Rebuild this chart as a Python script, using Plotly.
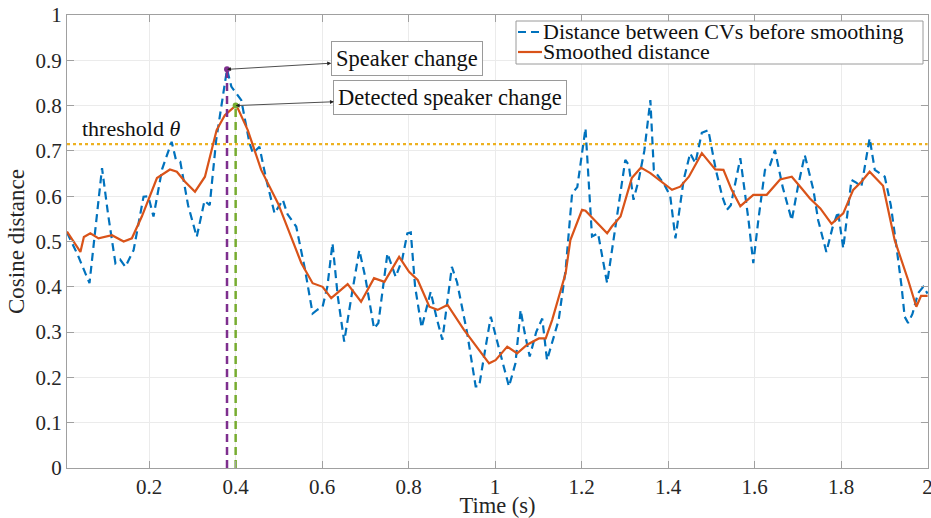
import plotly.graph_objects as go

# ---------------- data ----------------
raw_t = [0.01, 0.035, 0.062, 0.075, 0.091, 0.105, 0.122, 0.133, 0.145, 0.164, 0.187, 0.198,
         0.21, 0.23, 0.252, 0.262, 0.272, 0.29, 0.31, 0.328, 0.34, 0.355, 0.38, 0.39, 0.413,
         0.432, 0.44, 0.455, 0.47, 0.49, 0.509, 0.52, 0.54, 0.56, 0.578, 0.59, 0.601, 0.612,
         0.624, 0.636, 0.651, 0.668, 0.686, 0.70, 0.72, 0.73, 0.751, 0.77, 0.785, 0.797, 0.805,
         0.815, 0.83, 0.851, 0.865, 0.878, 0.90, 0.912, 0.935, 0.955, 0.963, 0.975, 0.99, 1.01,
         1.032, 1.047, 1.059, 1.068, 1.08, 1.095, 1.109, 1.12, 1.147, 1.163, 1.178, 1.19, 1.209,
         1.224, 1.238, 1.259, 1.278, 1.301, 1.309, 1.32, 1.332, 1.345, 1.359, 1.367, 1.39, 1.405,
         1.417, 1.436, 1.451, 1.463, 1.478, 1.493, 1.51, 1.525, 1.536, 1.545, 1.567, 1.586, 1.597,
         1.609, 1.624, 1.636, 1.647, 1.665, 1.686, 1.70, 1.716, 1.736, 1.747, 1.766, 1.78, 1.793,
         1.805, 1.824, 1.835, 1.847, 1.866, 1.878, 1.901, 1.915, 1.928, 1.94, 1.947, 1.955, 1.965,
         1.978, 1.99, 2.0]
raw_v = [0.52, 0.47, 0.408, 0.52, 0.662, 0.56, 0.452, 0.46, 0.444, 0.481, 0.599, 0.60,
         0.555, 0.66, 0.72, 0.68, 0.676, 0.58, 0.51, 0.59, 0.58, 0.724, 0.88, 0.842, 0.812,
         0.717, 0.695, 0.709, 0.64, 0.562, 0.592, 0.56, 0.533, 0.44, 0.341, 0.35, 0.356, 0.40,
         0.496, 0.38, 0.279, 0.38, 0.481, 0.42, 0.308, 0.32, 0.474, 0.422, 0.46, 0.518, 0.52,
         0.40, 0.31, 0.389, 0.33, 0.283, 0.444, 0.41, 0.30, 0.18, 0.18, 0.25, 0.334, 0.26,
         0.18, 0.231, 0.349, 0.30, 0.246, 0.30, 0.33, 0.238, 0.327, 0.437, 0.606, 0.62, 0.75,
         0.511, 0.518, 0.408, 0.533, 0.68, 0.669, 0.592, 0.636, 0.70, 0.812, 0.658, 0.628, 0.60,
         0.507, 0.636, 0.695, 0.673, 0.74, 0.746, 0.66, 0.60, 0.57, 0.58, 0.684, 0.547, 0.452,
         0.55, 0.658, 0.669, 0.702, 0.62, 0.547, 0.62, 0.691, 0.614, 0.547, 0.477, 0.53, 0.566,
         0.485, 0.636, 0.63, 0.621, 0.728, 0.658, 0.643, 0.58, 0.489, 0.40, 0.334, 0.32, 0.34,
         0.386, 0.40, 0.385]

smooth_t = [0.01, 0.041, 0.049, 0.064, 0.083, 0.114, 0.141, 0.16, 0.183, 0.218, 0.248, 0.264,
            0.283, 0.306, 0.329, 0.356, 0.375, 0.40, 0.405, 0.428, 0.459, 0.498, 0.552, 0.578,
            0.601, 0.621, 0.659, 0.69, 0.72, 0.744, 0.778, 0.801, 0.821, 0.848, 0.867, 0.89,
            0.928, 0.986, 1.001, 1.028, 1.051, 1.074, 1.101, 1.117, 1.132, 1.163, 1.174, 1.201,
            1.209, 1.236, 1.259, 1.27, 1.29, 1.316, 1.337, 1.359, 1.39, 1.409, 1.428, 1.448,
            1.478, 1.509, 1.528, 1.547, 1.567, 1.597, 1.618, 1.628, 1.659, 1.686, 1.709, 1.728,
            1.752, 1.778, 1.805, 1.828, 1.847, 1.866, 1.897, 1.924, 1.955, 1.974, 1.985, 2.0]
smooth_v = [0.522, 0.477, 0.51, 0.518, 0.507, 0.514, 0.50, 0.507, 0.555, 0.64, 0.659, 0.654,
            0.632, 0.61, 0.643, 0.746, 0.779, 0.80, 0.794, 0.746, 0.658, 0.584, 0.452, 0.408,
            0.40, 0.375, 0.406, 0.367, 0.419, 0.411, 0.466, 0.433, 0.415, 0.356, 0.349, 0.36,
            0.305, 0.231, 0.238, 0.268, 0.253, 0.272, 0.286, 0.286, 0.327, 0.43, 0.503, 0.57,
            0.568, 0.54, 0.518, 0.533, 0.555, 0.64, 0.663, 0.651, 0.628, 0.614, 0.621, 0.643,
            0.695, 0.659, 0.658, 0.614, 0.578, 0.603, 0.603, 0.603, 0.637, 0.643, 0.617, 0.595,
            0.573, 0.539, 0.562, 0.614, 0.632, 0.654, 0.623, 0.503, 0.415, 0.356, 0.38, 0.38]

threshold = 0.715
change_t, change_v = 0.38, 0.88
detect_t, detect_v = 0.40, 0.80

x_ticks = [0.2, 0.4, 0.6, 0.8, 1.0, 1.2, 1.4, 1.6, 1.8, 2.0]
x_tick_labels = ["0.2", "0.4", "0.6", "0.8", "1", "1.2", "1.4", "1.6", "1.8", "2"]
y_ticks = [0, 0.1, 0.2, 0.3, 0.4, 0.5, 0.6, 0.7, 0.8, 0.9, 1.0]
y_tick_labels = ["0", "0.1", "0.2", "0.3", "0.4", "0.5", "0.6", "0.7", "0.8", "0.9", "1"]

legend_labels = ["Distance between CVs before smoothing", "Smoothed distance"]

# ---------------- style ----------------
W, H = 931, 518
ML, MR, MT, MB = 67, 3, 15, 50
PW, PH = W - ML - MR, H - MT - MB
FONT = "Liberation Serif"
BLUE, ORANGE, YELLOW = "#0072BD", "#D95319", "#EDB120"
PURPLE, GREEN = "#7E2F8E", "#77AC30"
DASH = "8px,5px"


def px2paper(px, py):
    return (px - ML) / PW, (H - MB - py) / PH


fig = go.Figure()

fig.add_trace(go.Scatter(x=[0.01, 2.0], y=[threshold, threshold], mode="lines",
                         line=dict(color=YELLOW, width=2.2, dash="dot"), showlegend=False))
fig.add_trace(go.Scatter(x=raw_t, y=raw_v, mode="lines",
                         line=dict(color=BLUE, width=2.2, dash=DASH), showlegend=False))
fig.add_trace(go.Scatter(x=smooth_t, y=smooth_v, mode="lines",
                         line=dict(color=ORANGE, width=2.2), showlegend=False))
fig.add_trace(go.Scatter(x=[change_t, change_t], y=[0, change_v], mode="lines",
                         line=dict(color=PURPLE, width=2.5, dash=DASH), showlegend=False))
fig.add_trace(go.Scatter(x=[detect_t, detect_t], y=[0, detect_v], mode="lines",
                         line=dict(color=GREEN, width=2.5, dash=DASH), showlegend=False))
fig.add_trace(go.Scatter(x=[change_t], y=[change_v], mode="markers",
                         marker=dict(color=PURPLE, size=6), showlegend=False))
fig.add_trace(go.Scatter(x=[detect_t], y=[detect_v], mode="markers",
                         marker=dict(color=GREEN, size=6), showlegend=False))

# annotations with double-headed arrows
ann_common = dict(xref="x", yref="y", axref="x", ayref="y", showarrow=True,
                  arrowhead=2, startarrowhead=2, arrowside="end+start", arrowsize=1,
                  startarrowsize=1, arrowwidth=0.8, arrowcolor="#222222",
                  bgcolor="white", bordercolor="#9a9a9a", borderwidth=1, borderpad=4,
                  font=dict(family=FONT, size=22.5, color="#111111"))
fig.add_annotation(x=change_t, y=change_v, ax=0.7956, ay=0.9035,
                   text="Speaker change", **ann_common)
fig.add_annotation(x=detect_t, y=detect_v, ax=0.8967, ay=0.8186,
                   text="Detected speaker change", **ann_common)

fig.add_annotation(x=0.04, y=0.75, xref="x", yref="y", xanchor="left", yanchor="middle",
                   text="threshold <i>θ</i>", showarrow=False,
                   font=dict(family=FONT, size=22, color="#111111"))

# manual legend
shapes = []
x0, y0 = px2paper(516, 21)
x1, y1 = px2paper(923, 64)
shapes.append(dict(type="rect", xref="paper", yref="paper", x0=x0, y0=y1, x1=x1, y1=y0,
                   line=dict(color="#9a9a9a", width=1), fillcolor="white", layer="above"))
lx0, ly = px2paper(518, 32)
lx1, _ = px2paper(542, 32)
shapes.append(dict(type="line", xref="paper", yref="paper", x0=lx0, x1=lx1, y0=ly, y1=ly,
                   line=dict(color=BLUE, width=2.2, dash=DASH), layer="above"))
_, ly2 = px2paper(518, 52)
shapes.append(dict(type="line", xref="paper", yref="paper", x0=lx0, x1=lx1, y0=ly2, y1=ly2,
                   line=dict(color=ORANGE, width=2.2), layer="above"))
tx, _ = px2paper(541, 0)
for lab, yy in zip(legend_labels, [ly, ly2]):
    fig.add_annotation(x=tx, y=yy, xref="paper", yref="paper", xanchor="left",
                       yanchor="middle", text=lab, showarrow=False,
                       font=dict(family=FONT, size=22, color="#111111"))

axis_common = dict(showgrid=True, gridcolor="#ebebeb", gridwidth=1, showline=True,
                   linecolor="#a0a0a0", linewidth=1, mirror="allticks", ticks="inside",
                   ticklen=7, tickcolor="#a0a0a0", zeroline=False, automargin=False,
                   tickfont=dict(family=FONT, size=21, color="#262626"))

fig.update_layout(
    width=W, height=H, margin=dict(l=ML, r=MR, t=MT, b=MB),
    plot_bgcolor="white", paper_bgcolor="white", shapes=shapes,
    xaxis=dict(range=[0.01, 2.001], tickvals=x_ticks, ticktext=x_tick_labels,
               ticklabeloverflow="allow",
               title=dict(text="Time (s)", font=dict(family=FONT, size=22.5, color="#262626"),
                          standoff=1), **axis_common),
    yaxis=dict(range=[0, 1], tickvals=y_ticks, ticktext=y_tick_labels,
               title=dict(text="Cosine distance", font=dict(family=FONT, size=23, color="#262626"),
                          standoff=4), **axis_common),
)

fig.write_html("out.html", config={"displayModeBar": False},
               post_script="document.body.style.margin='0px';document.body.style.overflow='hidden';")
